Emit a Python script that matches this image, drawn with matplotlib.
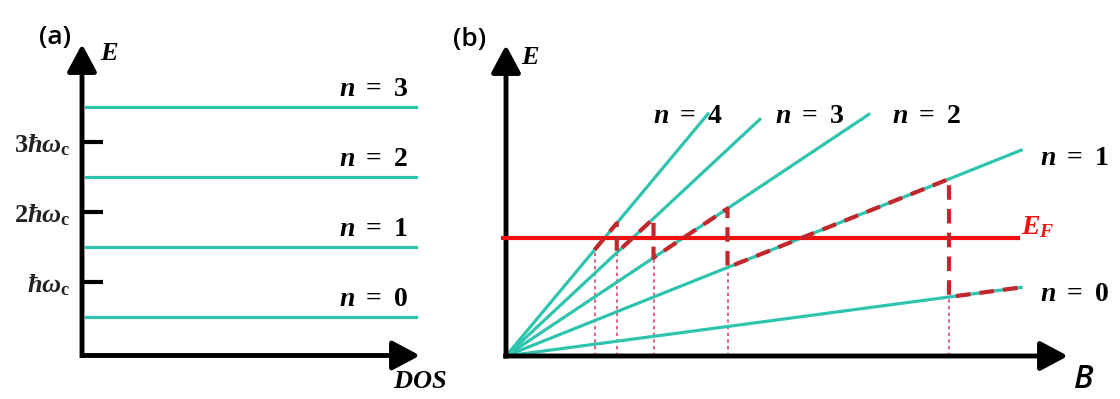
import numpy as np
import matplotlib.pyplot as plt

plt.rcParams['mathtext.fontset'] = 'custom'
plt.rcParams['mathtext.rm'] = 'Liberation Serif:bold'
plt.rcParams['mathtext.it'] = 'Liberation Serif:italic:bold'
plt.rcParams['mathtext.bf'] = 'Liberation Serif:bold'

# panel (a): Landau levels, energy in units of hbar*omega_c
levels_n = [0, 1, 2, 3]
level_E = [0.5, 1.5, 2.5, 3.5]
tick_E = [1, 2, 3]
tick_labels = [r'$\hbar\omega_{\rm c}$', r'$2\hbar\omega_{\rm c}$', r'$3\hbar\omega_{\rm c}$']

# panel (b): fan diagram, E in units of E_F, B arbitrary
fan_n = [0, 1, 2, 3, 4]
fan_slope = [0.05, 0.15, 0.25, 0.35, 0.45]   # E per unit B
fan_bend = [11.63, 11.63, 8.19, 5.73, 4.56]  # where each line stops
E_F = 1.0
b_jump = [2.0, 2.5, 3.33, 5.0, 10.0]   # depopulation fields
b_last = 11.63

TEAL = '#2ec4ad'
RED = '#f01010'
DRED = '#c1272d'
PINK = '#e0456a'

W, H = 1120, 399
fig = plt.figure(figsize=(W / 100, H / 100), dpi=100)


def px_axes(x0, y0, x1, y1):
    return fig.add_axes([x0 / W, 1 - y1 / H, (x1 - x0) / W, (y1 - y0) / H])


def draw_arrows(ax):
    for s in ax.spines.values():
        s.set_visible(False)
    kw = dict(arrowstyle='-|>,head_length=0.6,head_width=0.32', lw=3.5, color='k',
              mutation_scale=28, shrinkA=0, shrinkB=0, capstyle='butt')
    ax.annotate('', xy=(0, 1), xytext=(0, -0.008), xycoords='axes fraction', arrowprops=kw)
    ax.annotate('', xy=(1, 0), xytext=(-0.005, 0), xycoords='axes fraction', arrowprops=kw)
    ax.set_facecolor('none')


# ---- (a)
ax = px_axes(82, 44, 420, 355.5)
ax.set_xlim(0, 1)
ax.set_ylim(-0.05, 4.4)
draw_arrows(ax)
for n, e in zip(levels_n, level_E):
    ax.plot([0.012, 0.988], [e, e], color=TEAL, lw=2.3)
    ax.text(0.965, e + 0.07, r'$n\ =\ %d$' % n, ha='right', va='bottom', fontsize=20)
ax.set_xticks([])
ax.set_yticks(tick_E, tick_labels)
ax.tick_params(axis='y', direction='in', length=15, width=3, pad=8, labelsize=19,
               labelcolor='#222222')
ax.text(0.08, 4.27, r'$E$', fontsize=19, ha='center', va='center')
ax.text(1.0, -0.42, r'$DOS$', fontsize=19, ha='center', va='center')
fig.text(55 / W, 1 - 38 / H, '(a)', fontsize=19, ha='center', va='center',
         family='Open Sans', weight='semibold')

# ---- (b)
bx = px_axes(506, 45, 1068, 356)
bx.set_xlim(0, 562 / 44.3)
bx.set_ylim(0, 311 / 118)
draw_arrows(bx)
bx.set_xticks([])
bx.set_yticks([])
for n, s, be in zip(fan_n, fan_slope, fan_bend):
    bx.plot([0, be], [0, s * be], color=TEAL, lw=2.3, zorder=2)

bx.plot([-0.07, 11.56], [E_F, E_F], color=RED, lw=3, zorder=3, clip_on=False)

# Fermi energy following the highest occupied level
edges = b_jump + [b_last]
px, py = [], []
for i in range(len(b_jump)):
    s = fan_slope[4 - i]
    px += [edges[i], edges[i + 1]]
    py += [s * edges[i], s * edges[i + 1]]
bx.plot(px, py, color=DRED, lw=3, ls=(0, (3.5, 2.2)), zorder=4)

for i, b in enumerate(b_jump):
    s = fan_slope[4 - i]
    bx.plot([b, b], [0, s * b], color=PINK, lw=1.2, ls=(0, (2, 2)), zorder=1)

lab_pos = {4: (4.1, 2.04), 3: (6.86, 2.04), 2: (9.48, 2.04), 1: (12.84, 1.69), 0: (12.84, 0.534)}
for n, (xb, ye) in lab_pos.items():
    bx.text(xb, ye, r'$n\ =\ %d$' % n, ha='center', va='center', fontsize=20)
bx.text(12.0, 1.10, r'$E_F$', color=RED, fontsize=20, ha='center', va='center')
bx.text(0.54, 2.53, r'$E$', fontsize=19, ha='center', va='center')
bx.text(13.05, -0.2, 'B', fontsize=23, style='italic', family='Open Sans', weight='semibold',
        ha='center', va='center')
fig.text(470 / W, 1 - 40 / H, '(b)', fontsize=19, ha='center', va='center',
         family='Open Sans', weight='semibold')

fig.savefig('out.png', dpi=100)
